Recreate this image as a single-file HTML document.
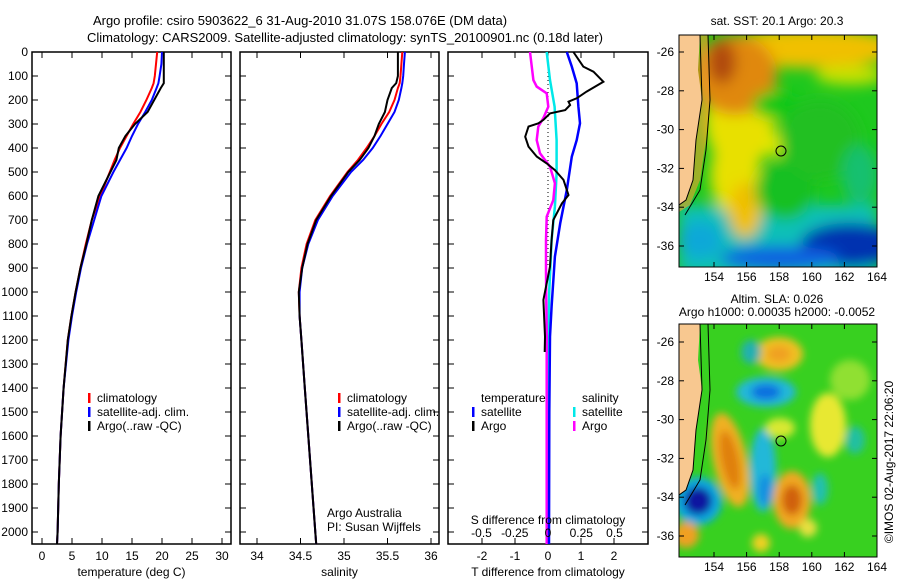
<!DOCTYPE html>
<html><head><meta charset="utf-8">
<style>
body{margin:0;background:#fff;}
svg{display:block;font-family:"Liberation Sans",sans-serif;font-size:12px;}
</style></head>
<body>
<svg id="fig" width="900" height="580" viewBox="0 0 900 580" xmlns="http://www.w3.org/2000/svg">
<defs>
<filter id="blur" x="-20%" y="-20%" width="140%" height="140%"><feGaussianBlur stdDeviation="7"/></filter>
<filter id="blur2" x="-20%" y="-20%" width="140%" height="140%"><feGaussianBlur stdDeviation="4"/></filter>
<clipPath id="clipTop"><rect x="679" y="35" width="198" height="232"/></clipPath>
<clipPath id="clipBot"><rect x="679" y="324" width="198" height="233"/></clipPath>
</defs>
<text x="300" y="25" text-anchor="middle" font-size="13">Argo profile: csiro 5903622_6 31-Aug-2010 31.07S 158.076E (DM data)</text>
<text x="345" y="42" text-anchor="middle" font-size="13">Climatology: CARS2009. Satellite-adjusted climatology: synTS_20100901.nc (0.18d later)</text>

<g id="p1"></g>
<g id="p2"></g>
<g id="p3"></g>

<!-- top map -->
<g>
<g clip-path="url(#clipTop)">
<rect x="679" y="35" width="198" height="232" fill="#1ec81e"/>
<g filter="url(#blur)">
<rect x="679" y="205" width="198" height="70" fill="#10c0b8"/>
<ellipse cx="810" cy="48" rx="90" ry="20" fill="#f0c000"/>
<ellipse cx="850" cy="75" rx="35" ry="10" fill="#c8e000"/>
<ellipse cx="740" cy="120" rx="35" ry="50" fill="#e8e000"/>
<ellipse cx="735" cy="175" rx="25" ry="40" fill="#e8e000"/>
<ellipse cx="745" cy="210" rx="16" ry="28" fill="#f0c000"/>
<ellipse cx="735" cy="75" rx="42" ry="40" fill="#e08810"/>
<ellipse cx="722" cy="62" rx="14" ry="22" fill="#b04808"/>
<ellipse cx="775" cy="145" rx="10" ry="12" fill="#e0e800"/>
<ellipse cx="775" cy="105" rx="22" ry="14" fill="#10c818"/>
<ellipse cx="785" cy="190" rx="30" ry="30" fill="#18c020"/>
<ellipse cx="820" cy="140" rx="40" ry="40" fill="#20c020"/>
<ellipse cx="860" cy="175" rx="18" ry="30" fill="#18c070"/>
<ellipse cx="850" cy="245" rx="50" ry="22" fill="#0030b0"/>
<ellipse cx="780" cy="258" rx="60" ry="12" fill="#1060e0"/>
<ellipse cx="700" cy="240" rx="22" ry="18" fill="#10a8d8"/>
</g>
<path d="M679 35 L700 35 L698 70 L702 100 L696 140 L693 180 L686 200 L679 205 Z" fill="#f8c890"/>
<path d="M700 35 L702 100 L696 140 L693 180 L686 200 L679 205 L679 212 L690 205 L700 180 L706 140 L710 100 L708 35 Z" fill="#f0a030" opacity="0.6"/>
<path d="M708 35 L710 100 L706 150 L700 190 L685 215" fill="none" stroke="#000" stroke-width="1"/>
<path d="M700 35 L702 100 L696 140 L693 180 L686 200 L679 205" fill="none" stroke="#000" stroke-width="1"/>
<circle cx="781" cy="151" r="5" fill="none" stroke="#000" stroke-width="1"/>
</g>
<rect x="679" y="35" width="198" height="232" fill="none" stroke="#000"/>
<text x="777" y="25" text-anchor="middle">sat. SST: 20.1  Argo: 20.3</text>
</g>

<!-- bottom map -->
<g>
<g clip-path="url(#clipBot)">
<rect x="679" y="324" width="198" height="233" fill="#38d020"/>
<g filter="url(#blur2)">
<ellipse cx="730" cy="460" rx="17" ry="48" fill="#f0b020" transform="rotate(-12 730 460)"/>
<ellipse cx="730" cy="460" rx="9" ry="30" fill="#e08010" transform="rotate(-12 730 460)"/>
<circle cx="698" cy="501" r="24" fill="#10a8e0"/>
<circle cx="698" cy="501" r="14" fill="#0818a0"/>
<ellipse cx="766" cy="392" rx="30" ry="15" fill="#20b8d8"/>
<ellipse cx="766" cy="392" rx="15" ry="8" fill="#1070e0"/>
<ellipse cx="763" cy="470" rx="13" ry="42" fill="#20b8d8"/>
<ellipse cx="765" cy="490" rx="7" ry="16" fill="#1890e0"/>
<ellipse cx="792" cy="500" rx="19" ry="29" fill="#f0a820"/>
<ellipse cx="792" cy="500" rx="10" ry="15" fill="#d06008"/>
<ellipse cx="779" cy="354" rx="24" ry="17" fill="#f0c020"/>
<ellipse cx="779" cy="354" rx="12" ry="8" fill="#f0a020"/>
<ellipse cx="828" cy="425" rx="18" ry="32" fill="#e8e830"/>
<ellipse cx="820" cy="489" rx="8" ry="16" fill="#20c0b0"/>
<ellipse cx="751" cy="352" rx="10" ry="12" fill="#20b0b0"/>
<circle cx="686" cy="535" r="13" fill="#f0a020"/>
<circle cx="761" cy="543" r="9" fill="#f0d020"/>
<circle cx="808" cy="528" r="9" fill="#e8e040"/>
<ellipse cx="780" cy="428" rx="15" ry="10" fill="#d8e830"/>
<ellipse cx="850" cy="380" rx="20" ry="20" fill="#90e030"/>
<ellipse cx="855" cy="440" rx="10" ry="14" fill="#20c0a0"/>
</g>
<path d="M679 324 L700 324 L698 360 L702 390 L696 430 L693 470 L686 490 L679 495 Z" fill="#f8c890"/>
<path d="M708 324 L710 390 L706 440 L700 480 L685 505" fill="none" stroke="#000" stroke-width="1"/>
<path d="M700 324 L702 390 L696 430 L693 470 L686 490 L679 495" fill="none" stroke="#000" stroke-width="1"/>
<circle cx="781" cy="441" r="5" fill="none" stroke="#000" stroke-width="1"/>
</g>
<rect x="679" y="324" width="198" height="233" fill="none" stroke="#000"/>
<text x="777" y="303" text-anchor="middle">Altim. SLA: 0.026</text>
<text x="777" y="316" text-anchor="middle">Argo h1000: 0.00035 h2000: -0.0052</text>
</g>
<text transform="translate(893 462) rotate(-90)" text-anchor="middle">©IMOS 02-Aug-2017 22:06:20</text>
<g id="mapticks"></g>
</svg>
<script>
const NS="http://www.w3.org/2000/svg";
const svg=document.getElementById('fig');
// ---- data ----
const depths=[0,50,100,130,150,200,250,300,350,400,450,500,600,700,800,900,1000,1100,1200,1400,1600,1800,2000,2050];
const tempClim=[19.2,19.0,18.8,18.6,18.3,17.4,16.4,15.2,14.1,13.0,12.1,11.3,9.7,8.3,7.3,6.4,5.6,4.9,4.3,3.6,3.1,2.8,2.6,2.5];
const tempSat=[20.0,19.9,19.6,19.4,19.1,18.3,17.2,16.0,15.0,14.1,13.0,11.9,9.9,8.7,7.5,6.5,5.7,5.0,4.4,3.6,3.1,2.8,2.6,2.5];
const tempArgo=[20.3,20.3,20.3,20.3,19.8,18.7,17.6,15.5,13.9,12.8,12.4,11.4,9.4,8.3,7.4,6.4,5.6,4.9,4.3,3.6,3.1,2.8,2.6,2.5];
const salClim=[35.67,35.66,35.65,35.64,35.62,35.58,35.52,35.43,35.35,35.26,35.16,35.04,34.84,34.67,34.57,34.51,34.48,34.49,34.51,34.55,34.59,34.63,34.67,34.68];
const salSat=[35.70,35.69,35.68,35.67,35.66,35.63,35.58,35.50,35.42,35.33,35.22,35.08,34.87,34.70,34.59,34.52,34.49,34.49,34.51,34.55,34.59,34.63,34.67,34.68];
const salArgo=[35.62,35.62,35.62,35.60,35.55,35.50,35.47,35.40,35.35,35.28,35.18,35.05,34.85,34.68,34.58,34.52,34.48,34.49,34.51,34.55,34.59,34.63,34.67,34.68];
const dTArgoDepth=[0,61,82,124,165,193,207,221,242,256,283,297,311,353,394,436,464,492,533,596,631,700,783,894,1033,1186,1250];
const dTArgo=[0.77,1.07,1.38,1.68,1.17,0.87,0.62,0.67,0.52,0.06,-0.14,-0.29,-0.59,-0.69,-0.59,-0.34,-0.04,0.21,0.47,0.62,0.42,0.16,0.11,0.06,-0.14,-0.09,-0.1];
const dTSatDepth=[0,61,131,228,297,367,436,575,714,853,1061,1186,1500,2050];
const dTSat=[0.57,0.72,0.87,0.92,0.97,0.87,0.72,0.57,0.37,0.21,0.11,0.06,0.04,0.03];
const dSArgoDepth=[0,117,144,172,228,276,311,367,422,478,547,617,686,783,922,1186,1500,2050];
const dSArgo=[-0.135,-0.11,-0.085,-0.01,0.002,-0.035,-0.073,-0.085,-0.06,0.015,0.052,0.04,-0.01,-0.015,-0.015,-0.01,-0.01,-0.01];
const dSSatDepth=[0,117,228,367,506,644,783,992,1186,1500,2050];
const dSSat=[-0.01,0.015,0.05,0.065,0.065,0.052,0.027,0.01,0.002,-0.003,-0.005];
const depthTicks=[0,100,200,300,400,500,600,700,800,900,1000,1100,1200,1300,1400,1500,1600,1700,1800,1900,2000];
const tempTicks=[0,5,10,15,20,25,30];
const salTicks=[34,34.5,35,35.5,36];
const salTickLabels=["34","34.5","35","35.5","36"];
const dTTicks=[-2,-1,0,1,2];
const dSTicks=[-0.5,-0.25,0,0.25,0.5];
const dSTickLabels=["-0.5","-0.25","0","0.25","0.5"];
const lonTicks=[154,156,158,160,162,164];
const latTicks=[-26,-28,-30,-32,-34,-36];
// ---- scales ----
const yD=d=>52+d*0.24;
const xT=t=>42+6*t;
const xS=s=>257+87*(s-34);
const xDT=t=>548+33*t;
const xDS=s=>548+133*s;
const PB=544;
function el(tag,attrs,parent,text){const e=document.createElementNS(NS,tag);for(const k in attrs)e.setAttribute(k,attrs[k]);if(text!==undefined)e.textContent=text;(parent||svg).appendChild(e);return e;}
function line(xs,ds,xf,color,name,parent,w){
  const pts=xs.map((v,i)=>xf(v).toFixed(1)+','+yD(ds[i]).toFixed(1)).join(' ');
  const p=el('polyline',{points:pts,fill:'none',stroke:color,'stroke-width':w||2},parent);
  
  
}
function frame(parent,x0,x1,xticks,xf,labels,xlabel,leftLabels){
  el('rect',{x:x0,y:52,width:x1-x0,height:PB-52,fill:'none',stroke:'#000','stroke-width':1.5},parent);
  depthTicks.forEach(d=>{
    const y=yD(d);
    el('line',{x1:x0,x2:x0+6,y1:y,y2:y,stroke:'#000'},parent);
    el('line',{x1:x1-6,x2:x1,y1:y,y2:y,stroke:'#000'},parent);
    if(leftLabels){const t=el('text',{x:x0-4,y:y+4,'text-anchor':'end'},parent,String(d));
      
      }
  });
  xticks.forEach((v,i)=>{
    const x=xf(v);
    el('line',{x1:x,x2:x,y1:PB,y2:PB-6,stroke:'#000'},parent);
    el('line',{x1:x,x2:x,y1:52,y2:58,stroke:'#000'},parent);
    if(labels){const t=el('text',{x:x,y:560,'text-anchor':'middle'},parent,labels[i]);
      
      }
  });
  const xl=el('text',{x:(x0+x1)/2,y:576,'text-anchor':'middle'},parent,xlabel);
  
  
}
function legend(parent,x,y,color,label){
  el('rect',{x:x,y:y-9,width:2.5,height:10,fill:color},parent);
  const t=el('text',{x:x+9,y:y},parent,label);
  
  
}
// panel 1
const p1=document.getElementById('p1');
frame(p1,32,231,tempTicks,xT,tempTicks.map(String),'temperature (deg C)',true);
line(tempClim,depths,xT,'#f00','temp-climatology-line',p1);
line(tempSat,depths,xT,'#00f','temp-satellite-line',p1);
line(tempArgo,depths,xT,'#000','temp-argo-line',p1);
legend(p1,88,402,'#f00','climatology');
legend(p1,88,416,'#00f','satellite-adj. clim.');
legend(p1,88,430,'#000','Argo(..raw -QC)');
// panel 2
const p2=document.getElementById('p2');
frame(p2,240,439,salTicks,xS,salTickLabels,'salinity',false);
line(salClim,depths,xS,'#f00','sal-climatology-line',p2);
line(salSat,depths,xS,'#00f','sal-satellite-line',p2);
line(salArgo,depths,xS,'#000','sal-argo-line',p2);
legend(p2,338,402,'#f00','climatology');
legend(p2,338,416,'#00f','satellite-adj. clim.');
legend(p2,338,430,'#000','Argo(..raw -QC)');
el('text',{x:327,y:517},p2,'Argo Australia');
el('text',{x:327,y:531},p2,'PI: Susan Wijffels');
// panel 3
const p3=document.getElementById('p3');
frame(p3,448,648,dTTicks,xDT,dTTicks.map(String),'T difference from climatology',false);
el('line',{x1:xDT(0),x2:xDT(0),y1:52,y2:yD(900),stroke:'#000','stroke-dasharray':'1,3'},p3);
line(dSSat,dSSatDepth,xDS,'#00e8e8','sal-diff-satellite-line',p3,2.5);
line(dSArgo,dSArgoDepth,xDS,'#f0f','sal-diff-argo-line',p3,2.5);
line(dTSat,dTSatDepth,xDT,'#00f','temp-diff-satellite-line',p3,2.5);
line(dTArgo,dTArgoDepth,xDT,'#000','temp-diff-argo-line',p3,2);
dSTicks.forEach((v,i)=>{const t=el('text',{x:xDS(v),y:537,'text-anchor':'middle'},p3,dSTickLabels[i]);
  
  });
el('text',{x:548,y:524,'text-anchor':'middle'},p3,'S difference from climatology');
el('text',{x:481,y:402},p3,'temperature');
el('text',{x:582,y:402},p3,'salinity');
legend(p3,472,416,'#00f','satellite');
legend(p3,472,430,'#000','Argo');
legend(p3,573,416,'#00e8e8','satellite');
legend(p3,573,430,'#f0f','Argo');
// map ticks
const mt=document.getElementById('mapticks');
[[35,267,52],[324,557,342]].forEach(([top,bot,lat26])=>{
  lonTicks.forEach(l=>{const x=714+(l-154)*16.3;
    el('line',{x1:x,x2:x,y1:bot,y2:bot-5,stroke:'#000'},mt);
    el('line',{x1:x,x2:x,y1:top,y2:top+5,stroke:'#000'},mt);
    const t=el('text',{x:x,y:bot+14,'text-anchor':'middle'},mt,String(l));
    
    });
  latTicks.forEach(l=>{const y=lat26+(-26-l)*19.4;
    el('line',{x1:679,x2:684,y1:y,y2:y,stroke:'#000'},mt);
    el('line',{x1:872,x2:877,y1:y,y2:y,stroke:'#000'},mt);
    const t=el('text',{x:674,y:y+4,'text-anchor':'end'},mt,String(l));
    
    });
});
</script>
</body></html>
